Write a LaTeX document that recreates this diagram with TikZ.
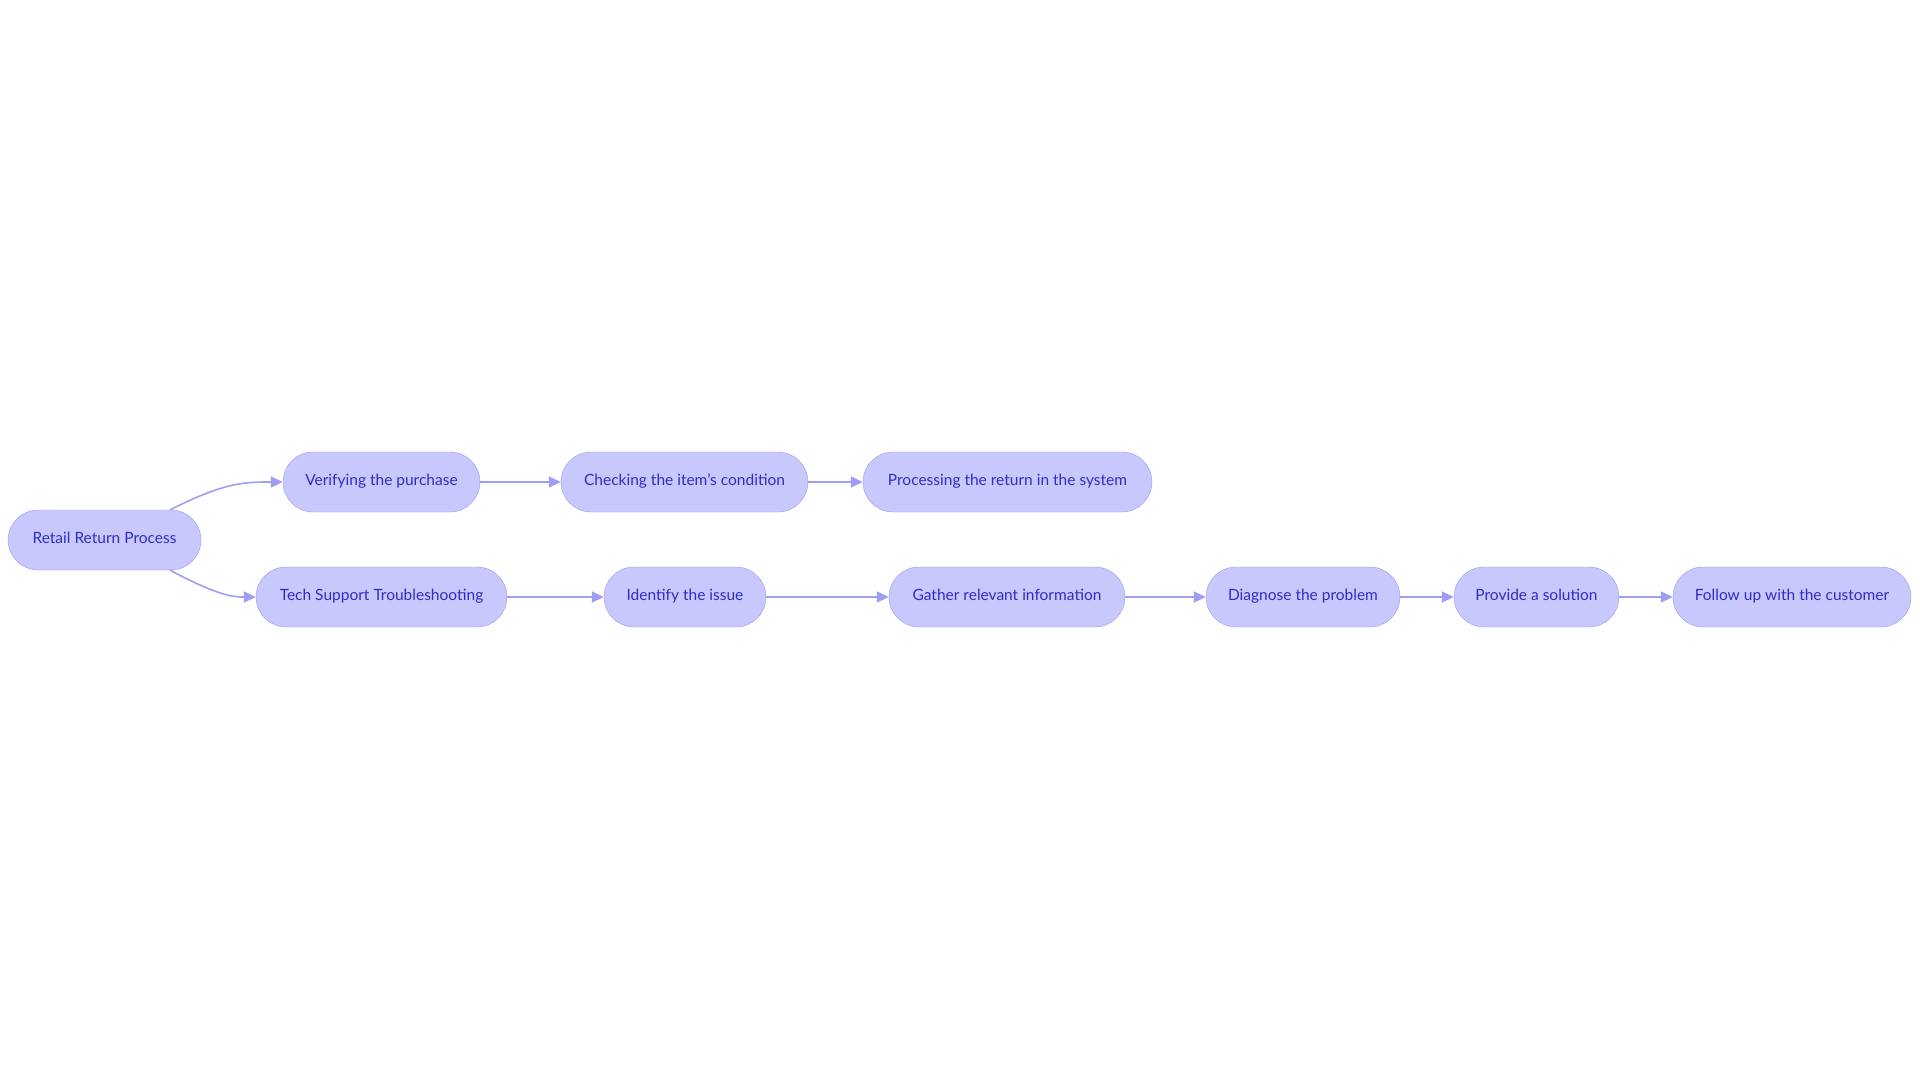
\documentclass[tikz,border=0pt]{standalone}
\usepackage{fontspec}
\setmainfont{Lato}
\usepackage{tikz}
\usetikzlibrary{arrows.meta}
\definecolor{boxfill}{RGB}{200,200,252}
\definecolor{boxline}{RGB}{155,155,240}
\definecolor{boxtext}{RGB}{45,45,200}
\definecolor{flowline}{RGB}{158,158,245}
\begin{document}
\begin{tikzpicture}[x=1pt,y=-1pt,line cap=round,line join=round,
    stepbox/.style={draw=boxline,fill=boxfill,text=boxtext,rounded corners=30pt,
        minimum height=60pt,inner sep=0pt,text height=10pt,text depth=4pt,
        font=\fontsize{15.5}{18}\selectfont},
    flow/.style={draw=flowline,line width=1.6pt,-{Triangle[length=12pt,width=11pt]}}]
                \useasboundingbox (0,0) rectangle (1920,1083);
                % upper row
                \node[stepbox,minimum width=193pt] (retail) at (104.5,540) {Retail Return Process};
                \node[stepbox,minimum width=197pt] (verify) at (381.5,482) {Verifying the purchase};
                \node[stepbox,minimum width=247pt] (check) at (684.5,482) {Checking the item's condition};
                \node[stepbox,minimum width=289pt] (process) at (1007.5,482) {Processing the return in the system};
                % lower row
                \node[stepbox,minimum width=251pt] (tech) at (381.5,597) {Tech Support Troubleshooting};
                \node[stepbox,minimum width=162pt] (identify) at (685,597) {Identify the issue};
                \node[stepbox,minimum width=236pt] (gather) at (1007,597) {Gather relevant information};
                \node[stepbox,minimum width=194pt] (diagnose) at (1303,597) {Diagnose the problem};
                \node[stepbox,minimum width=165pt] (solution) at (1536.5,597) {Provide a solution};
                \node[stepbox,minimum width=238pt] (follow) at (1792,597) {Follow up with the customer};
                % connectors
                \draw[flow] (retail.north east) ++(-31,0) .. controls (225,482) and (245,482) .. (verify.west);
                \draw[flow] (retail.south east) ++(-31,0) .. controls (220,597) and (235,597) .. (tech.west);
                \draw[flow] (verify) -- (check);
                \draw[flow] (check) -- (process);
                \draw[flow] (tech) -- (identify);
                \draw[flow] (identify) -- (gather);
                \draw[flow] (gather) -- (diagnose);
                \draw[flow] (diagnose) -- (solution);
                \draw[flow] (solution) -- (follow);
\end{tikzpicture}
\end{document}
